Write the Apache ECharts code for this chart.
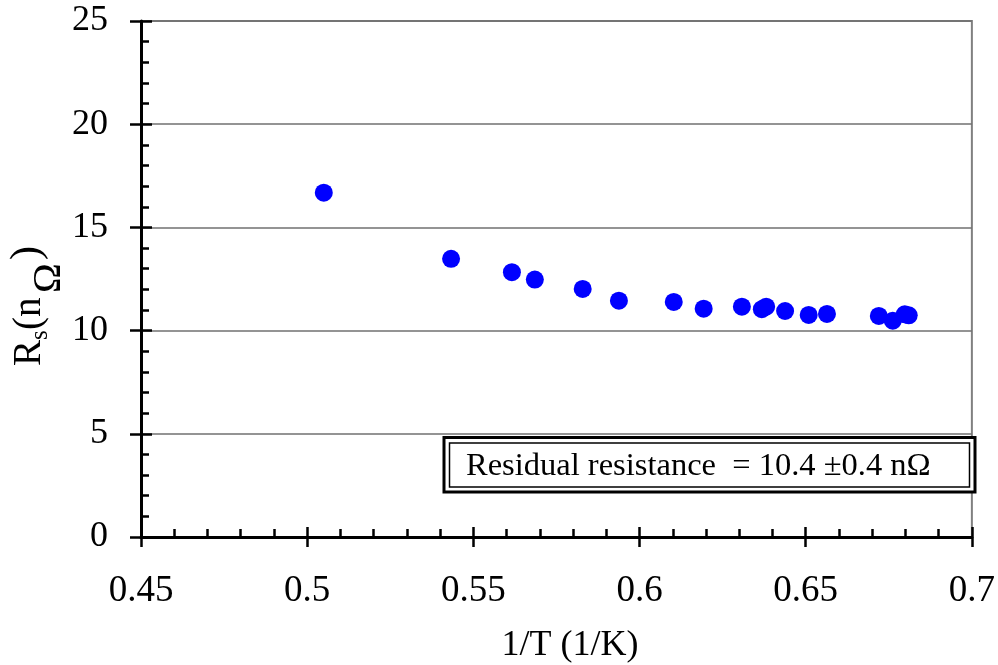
<!DOCTYPE html>
<html>
<head>
<meta charset="utf-8">
<script src="https://cdn.jsdelivr.net/npm/echarts@6/dist/echarts.min.js"></script>
<style>
html,body{margin:0;padding:0;background:#fff;}
#chart{width:998px;height:665px;}
</style>
</head>
<body>
<div id="chart"></div>
<script>
// Data
const invT = [0.5050, 0.5433, 0.5616, 0.5685, 0.5829, 0.5938, 0.6103, 0.6193, 0.6308, 0.6368, 0.6381, 0.6438, 0.6509, 0.6564, 0.6720, 0.6762, 0.6798, 0.6810];
const rs   = [16.68, 13.48, 12.83, 12.47, 12.02, 11.45, 11.39, 11.06, 11.16, 11.04, 11.16, 10.95, 10.76, 10.81, 10.71, 10.48, 10.79, 10.74];
const xTicks = [0.45, 0.5, 0.55, 0.6, 0.65, 0.7];
const yTicks = [0, 5, 10, 15, 20, 25];
const xTitle = '1/T (1/K)';
const noteText = 'Residual resistance  = 10.4 \u00B10.4 n\u03A9';

const FONT = "'Liberation Serif','Times New Roman',serif";
const chart = echarts.init(document.getElementById('chart'), null, {renderer: 'canvas'});

const xMin = xTicks[0], xMax = xTicks[xTicks.length - 1];
const yMin = yTicks[0], yMax = yTicks[yTicks.length - 1];
const xInt = xTicks[1] - xTicks[0];
const yInt = yTicks[1] - yTicks[0];

const points = invT.map((x, i) => [x, rs[i]]);

function fmtX(v) {
  return String(parseFloat(v.toFixed(2)));
}

const option = {
  animation: false,
  backgroundColor: '#fff',
  grid: {
    left: 141, right: 24, top: 21, bottom: 128,
    show: true, borderColor: '#808080', borderWidth: 2, backgroundColor: 'transparent'
  },
  xAxis: [
    {
      type: 'value', min: xMin, max: xMax, interval: xInt, position: 'bottom',
      axisLine: {show: true, onZero: false, lineStyle: {color: '#000', width: 3}},
      axisTick: {show: true, inside: false, length: 10, lineStyle: {color: '#000', width: 2.5}},
      minorTick: {show: false},
      axisLabel: {show: true, margin: 36, color: '#000', fontFamily: FONT, fontSize: 37, formatter: fmtX},
      splitLine: {show: false}
    },
    {
      type: 'value', min: xMin, max: xMax, interval: xInt, position: 'bottom', offset: 0,
      axisLine: {show: false},
      axisTick: {show: true, inside: true, length: 10, lineStyle: {color: '#000', width: 2.5}},
      minorTick: {show: true, splitNumber: 5, length: 8, lineStyle: {color: '#000', width: 2.5}},
      axisLabel: {show: false},
      splitLine: {show: false}
    }
  ],
  yAxis: [
    {
      type: 'value', min: yMin, max: yMax, interval: yInt, position: 'left',
      axisLine: {show: true, onZero: false, lineStyle: {color: '#000', width: 3}},
      axisTick: {show: true, inside: false, length: 11, lineStyle: {color: '#000', width: 2.5}},
      minorTick: {show: false},
      axisLabel: {show: true, margin: 33, color: '#000', fontFamily: FONT, fontSize: 36},
      splitLine: {show: true, lineStyle: {color: '#707070', width: 1.5}}
    },
    {
      type: 'value', min: yMin, max: yMax, interval: yInt, position: 'left', offset: 0,
      axisLine: {show: false},
      axisTick: {show: true, inside: true, length: 11, lineStyle: {color: '#000', width: 2.5}},
      minorTick: {show: true, splitNumber: 5, length: 8, lineStyle: {color: '#000', width: 2.5}},
      axisLabel: {show: false},
      splitLine: {show: false}
    }
  ],
  series: [{
    type: 'scatter',
    xAxisIndex: 0, yAxisIndex: 0,
    data: points,
    symbol: 'circle',
    symbolSize: 18,
    itemStyle: {color: '#0000FF', opacity: 1},
    z: 5
  }],
  graphic: [
    {
      type: 'text', x: 570, y: 646,
      style: {text: xTitle, font: '36px ' + FONT, fill: '#000', align: 'center', verticalAlign: 'middle'}
    },
    {
      type: 'group', x: 30, y: 366, rotation: Math.PI / 2,
      children: [
        {type: 'text', x: 0, y: 0, style: {text: 'R', font: '39px ' + FONT, fill: '#000', align: 'left', verticalAlign: 'middle'}},
        {type: 'text', x: 26, y: 10, style: {text: 's', font: '25px ' + FONT, fill: '#000', align: 'left', verticalAlign: 'middle'}},
        {type: 'text', x: 36, y: 0, style: {text: '(n', font: '39px ' + FONT, fill: '#000', align: 'left', verticalAlign: 'middle'}},
        {type: 'text', x: 73, y: 19, style: {text: '\u03A9', font: '40px ' + FONT, fill: '#000', align: 'left', verticalAlign: 'middle'}},
        {type: 'text', x: 106, y: -2, style: {text: ')', font: '42px ' + FONT, fill: '#000', align: 'left', verticalAlign: 'middle'}}
      ]
    },
    {
      type: 'rect', shape: {x: 444, y: 437.5, width: 531, height: 54.5},
      style: {fill: '#fff', stroke: '#000', lineWidth: 3}, z: 10
    },
    {
      type: 'rect', shape: {x: 449.5, y: 443, width: 520, height: 44},
      style: {fill: 'none', stroke: '#000', lineWidth: 1.5}, z: 11
    },
    {
      type: 'text', x: 466, y: 466, z: 12,
      style: {text: noteText, font: '32.5px ' + FONT, fill: '#000', align: 'left', verticalAlign: 'middle'}
    }
  ]
};
chart.setOption(option);
</script>
</body>
</html>
